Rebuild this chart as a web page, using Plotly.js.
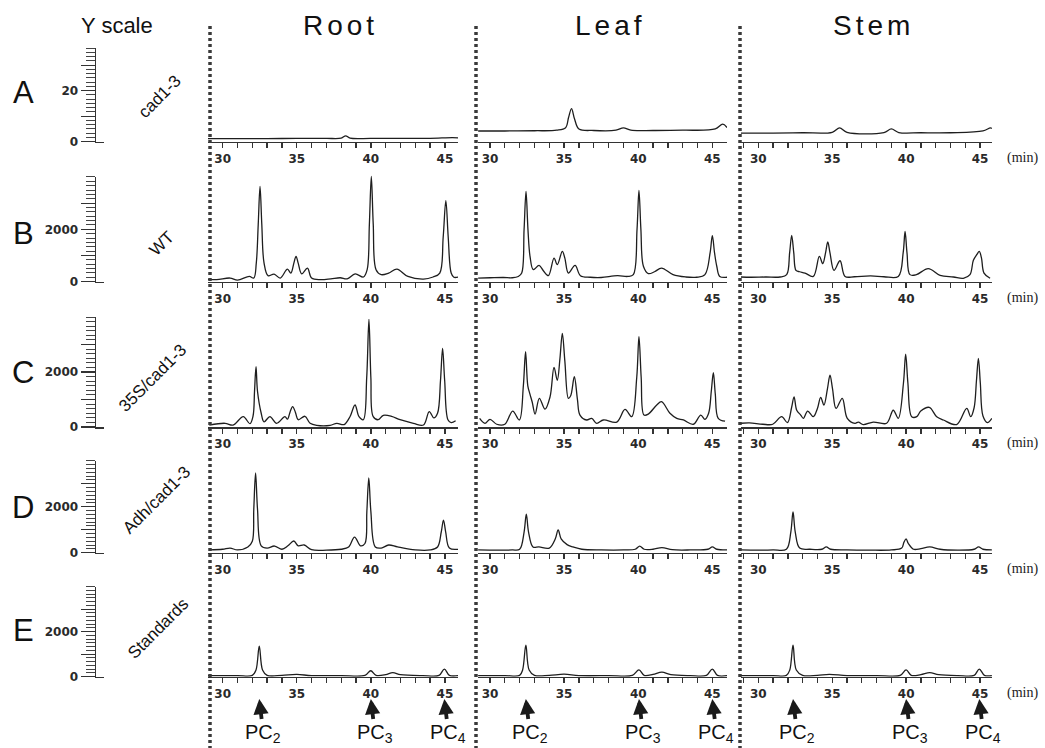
<!DOCTYPE html>
<html><head><meta charset="utf-8">
<script src="https://cdn.plot.ly/plotly-3.0.1.min.js"></script>
<style>html,body{margin:0;padding:0;background:#fff}</style>
</head><body><div id="chart" style="width:1045px;height:748px"></div>
<script>
// ---------------- DATA (retention time in min, detector response) ----------------
const rowLabels = ['A','B','C','D','E'];
const genotypes = ['cad1-3','WT','35S/cad1-3','Adh/cad1-3','Standards'];
const tissues = ['Root','Leaf','Stem'];
const xTickVals = [30,35,40,45];
const pcNames = ['PC<sub>2</sub>','PC<sub>3</sub>','PC<sub>4</sub>'];
const pcRoot_t = [32.47, 40.0, 44.96];
const pcLeaf_t = [32.42, 40.05, 45.0];
const pcStem_t = [32.35, 40.0, 44.95];

// Row A (scale 0-37)
const A_root_t = [29.0, 31.0, 33.0, 35.0, 37.0, 38.0, 38.3, 38.6, 40.0, 42.0, 44.0, 45.5, 45.9];
const A_root_y = [1.2, 1.2, 1.2, 1.3, 1.3, 1.4, 2.3, 1.4, 1.3, 1.3, 1.3, 1.6, 1.5];
const A_leaf_t = [29.2, 31.0, 33.0, 34.5, 35.1, 35.3, 35.5, 35.7, 36.0, 37.0, 38.5, 39.0, 39.5, 41.0, 43.0, 45.2, 45.7, 46.0];
const A_leaf_y = [4.2, 4.2, 4.3, 4.5, 5.5, 9.5, 13.0, 9.0, 5.0, 4.4, 4.5, 5.4, 4.5, 4.4, 4.5, 5.0, 6.9, 5.5];
const A_stem_t = [28.8, 31.0, 33.0, 35.0, 35.5, 36.0, 38.5, 39.0, 39.5, 41.0, 43.0, 45.2, 45.7, 45.8];
const A_stem_y = [3.4, 3.4, 3.5, 3.7, 5.4, 3.7, 3.6, 5.0, 3.6, 3.5, 3.5, 4.2, 5.4, 5.2];

// Row B (scale 0-4000)
const B_root_t = [29.0, 29.6, 30.5, 31.0, 31.8, 32.1, 32.27, 32.4, 32.52, 32.64, 32.79, 33.06, 33.47, 33.88, 34.37, 34.6, 34.8, 34.95, 35.1, 35.33, 35.72, 36.0, 36.6, 37.3, 37.93, 38.4, 38.94, 39.5, 39.75, 39.9, 40.03, 40.16, 40.35, 40.7, 41.2, 41.76, 42.5, 43.55, 44.2, 44.65, 44.88, 45.06, 45.22, 45.42, 45.6, 45.9];
const B_root_y = [90, 80, 140, 60, 200, 140, 720, 2200, 3640, 2200, 720, 230, 290, 140, 480, 330, 700, 970, 700, 300, 520, 140, 80, 110, 150, 110, 300, 180, 460, 2200, 4020, 2200, 460, 270, 330, 480, 200, 100, 180, 330, 1700, 3100, 1700, 330, 170, 180];
const B_leaf_t = [29.2, 30.0, 30.9, 31.5, 31.91, 32.14, 32.3, 32.43, 32.56, 32.7, 32.92, 33.31, 33.6, 33.94, 34.32, 34.54, 34.88, 35.05, 35.29, 35.74, 36.1, 36.76, 37.5, 38.6, 39.3, 39.67, 39.92, 40.05, 40.18, 40.35, 40.68, 41.1, 41.57, 42.35, 43.2, 43.94, 44.5, 44.85, 45.0, 45.15, 45.3, 45.5, 46.0];
const B_leaf_y = [140, 150, 160, 150, 200, 330, 2000, 3450, 2000, 970, 460, 620, 420, 230, 900, 650, 1160, 900, 330, 620, 230, 170, 160, 230, 200, 270, 2000, 3490, 2000, 590, 310, 380, 520, 270, 180, 170, 270, 1100, 1760, 1100, 590, 200, 170];
const B_stem_t = [28.8, 29.5, 30.5, 31.47, 31.92, 32.12, 32.26, 32.4, 32.55, 32.8, 33.16, 33.72, 34.13, 34.36, 34.55, 34.7, 34.85, 35.12, 35.53, 35.87, 36.5, 37.6, 38.5, 39.47, 39.8, 39.93, 40.06, 40.26, 40.7, 41.5, 42.3, 43.2, 43.87, 44.32, 44.55, 44.8, 44.95, 45.1, 45.27, 45.68];
const B_stem_y = [180, 170, 180, 180, 270, 1100, 1770, 1100, 430, 380, 330, 200, 970, 690, 1100, 1520, 1100, 430, 800, 200, 190, 220, 190, 200, 1100, 1920, 1100, 270, 270, 500, 240, 180, 130, 270, 815, 1050, 1160, 900, 330, 130];

// Row C (scale 0-4000)
const C_root_t = [29.1, 30.16, 30.7, 31.39, 31.84, 32.05, 32.15, 32.25, 32.35, 32.6, 32.79, 33.19, 33.64, 34.2, 34.37, 34.55, 34.72, 34.9, 35.1, 35.55, 35.9, 36.35, 37.25, 37.7, 38.2, 38.59, 38.93, 39.2, 39.49, 39.72, 39.87, 40.0, 40.16, 40.5, 40.84, 41.4, 41.97, 42.87, 43.55, 43.94, 44.25, 44.5, 44.7, 44.84, 44.98, 45.2, 45.42, 45.72];
const C_root_y = [70, 135, 70, 375, 120, 400, 1300, 2195, 1300, 500, 190, 375, 135, 375, 285, 550, 740, 550, 265, 390, 135, 60, 60, 135, 90, 375, 800, 375, 265, 1800, 3920, 1800, 375, 265, 425, 390, 265, 135, 73, 560, 330, 500, 1700, 2865, 1700, 265, 160, 225];
const C_leaf_t = [29.3, 29.66, 30.0, 30.45, 31.0, 31.53, 31.98, 32.25, 32.4, 32.55, 32.7, 32.85, 33.04, 33.33, 33.71, 34.05, 34.32, 34.54, 34.72, 34.88, 35.05, 35.29, 35.45, 35.69, 35.9, 36.07, 36.52, 36.86, 37.2, 37.65, 38.55, 39.11, 39.56, 39.9, 40.05, 40.2, 40.39, 40.68, 41.25, 41.57, 42.14, 42.6, 43.05, 43.72, 44.22, 44.5, 44.75, 44.93, 45.07, 45.2, 45.4, 45.86];
const C_leaf_y = [315, 135, 280, 100, 100, 580, 255, 1500, 2740, 1500, 1190, 900, 470, 1045, 650, 1095, 2170, 1700, 2500, 3410, 2400, 1045, 1150, 1830, 1000, 435, 255, 315, 135, 255, 180, 640, 375, 1800, 3290, 1800, 435, 470, 800, 920, 500, 315, 255, 100, 435, 280, 500, 1300, 1975, 1200, 315, 210];
const C_stem_t = [28.8, 29.4, 30.3, 30.98, 31.58, 31.97, 32.25, 32.42, 32.6, 32.87, 33.05, 33.34, 33.72, 34.0, 34.22, 34.44, 34.68, 34.85, 35.02, 35.26, 35.68, 36.02, 36.54, 36.77, 37.1, 37.78, 38.68, 39.13, 39.47, 39.82, 39.97, 40.12, 40.38, 40.72, 40.99, 41.57, 42.07, 42.52, 43.42, 44.1, 44.37, 44.6, 44.76, 44.89, 45.02, 45.2, 45.5, 45.8];
const C_stem_y = [135, 150, 100, 100, 375, 160, 700, 1100, 610, 435, 315, 580, 375, 675, 1080, 800, 1400, 1890, 1400, 675, 1045, 315, 135, 180, 90, 180, 135, 610, 315, 1600, 2650, 1600, 375, 375, 580, 715, 375, 255, 90, 680, 375, 700, 1700, 2500, 1600, 400, 160, 315];

// Row D (scale 0-4000)
const D_root_t = [29.1, 30.0, 30.5, 31.0, 31.7, 32.0, 32.1, 32.22, 32.35, 32.6, 33.0, 33.5, 34.0, 34.4, 34.8, 35.1, 35.5, 36.0, 37.0, 38.0, 38.5, 38.9, 39.3, 39.6, 39.73, 39.86, 40.0, 40.3, 40.7, 41.2, 41.8, 43.0, 44.0, 44.5, 44.75, 44.9, 45.05, 45.3, 45.9];
const D_root_y = [120, 150, 200, 120, 250, 500, 1900, 3470, 1900, 300, 200, 290, 150, 300, 510, 300, 335, 130, 110, 150, 250, 680, 300, 400, 1800, 3250, 1800, 250, 200, 335, 250, 120, 120, 250, 900, 1420, 900, 200, 150];
const D_leaf_t = [29.2, 30.5, 31.5, 32.0, 32.3, 32.45, 32.6, 32.9, 33.3, 34.0, 34.4, 34.6, 34.8, 35.2, 35.6, 36.2, 37.5, 39.0, 39.8, 40.1, 40.4, 41.0, 41.6, 42.3, 43.5, 44.7, 45.0, 45.3, 46.0];
const D_leaf_y = [120, 110, 120, 150, 900, 1680, 900, 250, 250, 200, 600, 990, 600, 350, 250, 150, 120, 120, 150, 290, 150, 150, 220, 130, 120, 150, 250, 150, 120];
const D_stem_t = [28.8, 30.0, 31.0, 31.9, 32.2, 32.35, 32.5, 32.8, 33.5, 34.3, 34.6, 34.9, 36.0, 37.5, 39.0, 39.7, 39.85, 40.0, 40.15, 40.5, 41.0, 41.6, 42.3, 43.5, 44.6, 44.9, 45.2, 45.8];
const D_stem_y = [120, 110, 120, 150, 900, 1770, 900, 200, 150, 150, 250, 150, 120, 110, 120, 200, 450, 600, 400, 150, 180, 250, 150, 110, 150, 250, 150, 120];

// Row E (scale 0-4000)
const E_root_t = [29.0, 31.0, 32.0, 32.25, 32.47, 32.69, 33.0, 34.0, 35.0, 36.0, 38.0, 39.6, 39.99, 40.35, 41.0, 41.48, 42.0, 43.5, 44.6, 44.96, 45.3, 45.9];
const E_root_y = [45, 50, 60, 300, 1360, 300, 60, 60, 100, 50, 50, 60, 265, 60, 90, 180, 90, 50, 60, 340, 60, 50];
const E_leaf_t = [29.2, 31.0, 32.0, 32.2, 32.42, 32.64, 33.0, 34.0, 35.0, 36.0, 38.0, 39.6, 40.05, 40.4, 41.0, 41.6, 42.2, 43.5, 44.6, 45.0, 45.35, 46.0];
const E_leaf_y = [45, 50, 60, 300, 1400, 300, 60, 60, 110, 50, 50, 60, 300, 60, 100, 200, 90, 50, 60, 340, 60, 50];
const E_stem_t = [28.8, 31.0, 31.9, 32.13, 32.35, 32.57, 33.0, 34.0, 34.8, 36.0, 38.0, 39.6, 40.0, 40.35, 41.0, 41.6, 42.2, 43.5, 44.6, 44.95, 45.3, 45.8];
const E_stem_y = [45, 50, 60, 300, 1400, 300, 60, 60, 100, 50, 50, 60, 300, 60, 90, 180, 90, 50, 60, 340, 60, 50];

// ---------------- LAYOUT GEOMETRY ----------------
const W = 1045, H = 748;
const fx = p => p / W, fy = p => 1 - p / H;
const colDom = [[208,458],[478,727],[741,992]];
const colRange = [[29.01,45.88],[29.19,45.99],[28.83,45.81]];
const rowGeo = [
  {zero:141.7, upp:0.392, top:40,  rTop:36.7, maj:[0,10,20,30],        lab:['0','','20',''],   step:20/12},
  {zero:281.7, upp:38.2,  top:160, rTop:4000, maj:[0,1000,2000,3000], lab:['0','','2000',''], step:2000/12},
  {zero:427.0, upp:36.4,  top:300, rTop:4000, maj:[0,1000,2000,3000], lab:['0','','2000',''], step:2000/12},
  {zero:552.7, upp:43.5,  top:455, rTop:4000, maj:[0,1000,2000,3000], lab:['0','','2000',''], step:2000/12},
  {zero:676.7, upp:44.4,  top:590, rTop:4000, maj:[0,1000,2000,3000], lab:['0','','2000',''], step:2000/12}
];
const letterY = [92, 233, 372, 507, 630];
const genoPos = [[160,97],[162,244],[152,378],[156,500],[158,628]];

const series = [
  [[A_root_t,A_root_y],[A_leaf_t,A_leaf_y],[A_stem_t,A_stem_y]],
  [[B_root_t,B_root_y],[B_leaf_t,B_leaf_y],[B_stem_t,B_stem_y]],
  [[C_root_t,C_root_y],[C_leaf_t,C_leaf_y],[C_stem_t,C_stem_y]],
  [[D_root_t,D_root_y],[D_leaf_t,D_leaf_y],[D_stem_t,D_stem_y]],
  [[E_root_t,E_root_y],[E_leaf_t,E_leaf_y],[E_stem_t,E_stem_y]]
];

const tickFont = {family:'DejaVu Sans, Arial', size:12, weight:'bold', color:'#2a2a2a'};
const traces = [];
const layout = {
  width:W, height:H, margin:{l:0,r:0,t:0,b:0}, autosize:false,
  paper_bgcolor:'#fff', plot_bgcolor:'rgba(0,0,0,0)', showlegend:false, hovermode:false,
  annotations:[], shapes:[]
};
const ax = i => (i===1?'':String(i));
const note = (px, py, text, font, extra) => Object.assign({x:fx(px), y:fy(py), xref:'paper', yref:'paper',
  xanchor:'center', yanchor:'middle', text:text, showarrow:false, font:font}, extra||{});

for (let r=0;r<5;r++){
  const g = rowGeo[r];
  for (let c=0;c<3;c++){
    const i = r*3+c+1;
    const [t,y] = series[r][c];
    traces.push({type:'scatter', mode:'lines', x:t, y:y, xaxis:'x'+ax(i), yaxis:'y'+ax(i),
      line:{color:'#1e1e1e', width:1.3, shape:'spline', smoothing:1}});
    layout['xaxis'+ax(i)] = {domain:[fx(colDom[c][0]), fx(colDom[c][1])], range:colRange[c], anchor:'y'+ax(i),
      showline:true, linecolor:'#333', linewidth:1.5, showgrid:false, zeroline:false,
      tickmode:'array', tickvals:xTickVals, ticks:'outside', ticklen:5, tickwidth:1.3, tickcolor:'#333',
      minor:{dtick:1, tick0:0, ticks:'outside', ticklen:5, tickwidth:1.3, tickcolor:'#333', showgrid:false},
      tickfont:tickFont};
    layout['yaxis'+ax(i)] = {domain:[fy(g.zero), fy(g.top)], range:[0,(g.zero-g.top)*g.upp], anchor:'x'+ax(i), visible:false};
  }
  // Y scale ruler
  const k = 16+r;
  traces.push({type:'scatter', mode:'lines', x:[0], y:[0], xaxis:'x'+k, yaxis:'y'+k, line:{width:0}, showlegend:false});
  layout['xaxis'+k] = {domain:[fx(96), fx(104)], range:[0,1], anchor:'y'+k, showline:true, linecolor:'#333', linewidth:1.5,
    showticklabels:false, ticks:'', showgrid:false, zeroline:false};
  layout['yaxis'+k] = {domain:[fy(g.zero), fy(g.zero - g.rTop/g.upp)], range:[0,g.rTop], anchor:'x'+k,
    showline:true, linecolor:'#333', linewidth:1.5, showgrid:false, zeroline:false,
    tickmode:'array', tickvals:g.maj, ticktext:g.lab, ticks:'outside', ticklen:14, tickwidth:1.2, tickcolor:'#333',
    minor:{dtick:g.step, tick0:0, ticks:'outside', ticklen:9, tickwidth:1, tickcolor:'#444', showgrid:false},
    tickfont:{family:'DejaVu Sans, Arial', size:12, weight:'bold', color:'#2a2a2a'}};

  layout.annotations.push(note(23, letterY[r], rowLabels[r], {family:'Liberation Sans, Arial', size:31, color:'#111'}));
  layout.annotations.push(note(genoPos[r][0], genoPos[r][1], genotypes[r], {family:'Liberation Sans, Arial', size:17, color:'#111'}, {textangle:-45}));
  layout.annotations.push(note(1022, g.zero+16, '(min)', {family:'Liberation Serif, Times New Roman', size:14, color:'#222'}));
}

// column titles
layout.annotations.push(note(117, 25, 'Y scale', {family:'Liberation Sans, Arial', size:22, color:'#111'}));
const titleX = [340, 610, 874];
tissues.forEach((s,c)=>layout.annotations.push(note(titleX[c], 25, '<span style="letter-spacing:4px">'+s+'</span>',
  {family:'Liberation Sans, Arial', size:28, color:'#111'})));

// PC arrows under row E
const pcT = [pcRoot_t, pcLeaf_t, pcStem_t];
for (let c=0;c<3;c++){
  for (let j=0;j<3;j++){
    layout.annotations.push({x:pcT[c][j], xref:'x'+(13+c), y:fy(699), yref:'paper', text:pcNames[j], showarrow:true,
      xanchor:'center', yanchor:'middle',
      ax:4, ay:34, arrowhead:2, arrowsize:0.8, arrowwidth:3.8, arrowcolor:'#1a1a1a', standoff:0,
      font:{family:'Liberation Sans, Arial', size:20, color:'#111'}});
  }
}

// dotted separators
[210, 476, 740].forEach(p=>layout.shapes.push({type:'line', xref:'paper', yref:'paper', x0:fx(p), x1:fx(p), y0:fy(26), y1:fy(748),
  line:{color:'#3a3a3a', width:3.5, dash:'3px,3px'}}));

Plotly.newPlot('chart', traces, layout, {staticPlot:true, displayModeBar:false});
</script>
</body></html>
